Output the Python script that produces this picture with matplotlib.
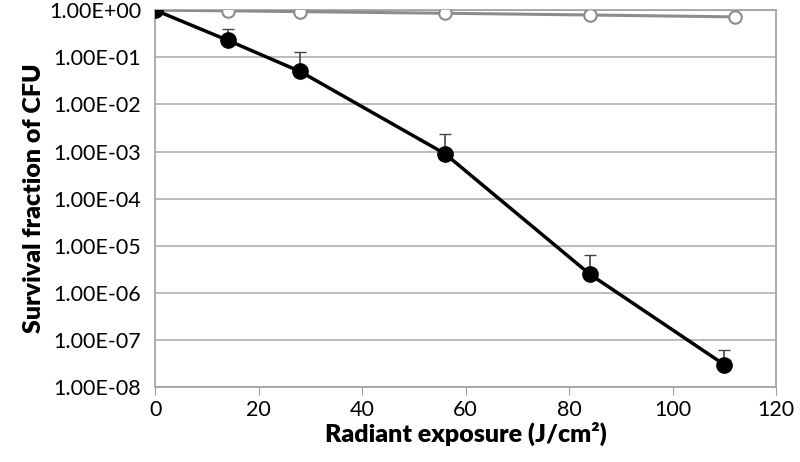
import numpy as np
import matplotlib
matplotlib.use('Agg')
import matplotlib.pyplot as plt
from matplotlib.ticker import FuncFormatter, FixedLocator

plt.rcParams['font.family'] = ['Lato', 'DejaVu Sans']

# treated series (black, filled)
dose_t = [0, 14, 28, 56, 84, 110]
surv_t = [1.0, 0.23, 0.05, 9.0e-4, 2.5e-6, 3.0e-8]
err_t = [0.0, 0.17, 0.08, 1.4e-3, 3.8e-6, 3.2e-8]

# control series (gray, open)
dose_c = [0, 14, 28, 56, 84, 112]
surv_c = [1.0, 0.97, 0.93, 0.86, 0.79, 0.72]
err_c = [0.0, 0.0, 0.0, 0.0, 0.06, 0.08]

yticks = [10.0**k for k in range(0, -9, -1)]
xticks = [0, 20, 40, 60, 80, 100, 120]

fig = plt.figure(figsize=(8, 4.62), dpi=100)
ax = fig.add_axes([0.194, 0.162, 0.776, 0.816])

ax.errorbar(dose_c, surv_c, yerr=[np.zeros(len(err_c)), err_c], color='#8c8c8c',
            lw=2.2, marker='o', ms=9, mfc='white', mec='#8c8c8c', mew=1.5,
            ecolor='#555555', elinewidth=1.2, capsize=4, zorder=3)
ax.errorbar(dose_t, surv_t, yerr=[np.zeros(len(err_t)), err_t], color='black',
            lw=2.5, marker='o', ms=11, mfc='black', mec='black',
            ecolor='#444444', elinewidth=1.2, capsize=4, zorder=4)

ax.set_yscale('log')
ax.set_ylim(1e-8, 1.0)
ax.set_xlim(0, 120)
ax.yaxis.set_major_locator(FixedLocator(yticks))
ax.yaxis.set_minor_locator(FixedLocator([]))
ax.yaxis.set_major_formatter(FuncFormatter(lambda v, p: '%.2E' % v))
ax.set_xticks(xticks)

ax.grid(axis='y', color='#b0b0b0', lw=1.2)
ax.set_axisbelow(True)
for s in ax.spines.values():
    s.set_color('#a0a0a0')
    s.set_linewidth(1.2)
ax.tick_params(axis='y', length=0, labelsize=15.5, pad=10)
ax.tick_params(axis='x', length=6, direction='out', color='#a0a0a0', labelsize=15.5)

ax.set_xlabel('Radiant exposure (J/cm²)', fontsize=18, fontweight='heavy', labelpad=1)
ax.set_ylabel('Survival fraction of CFU', fontsize=18, fontweight='heavy', labelpad=3)

fig.savefig('out.png', dpi=100)
